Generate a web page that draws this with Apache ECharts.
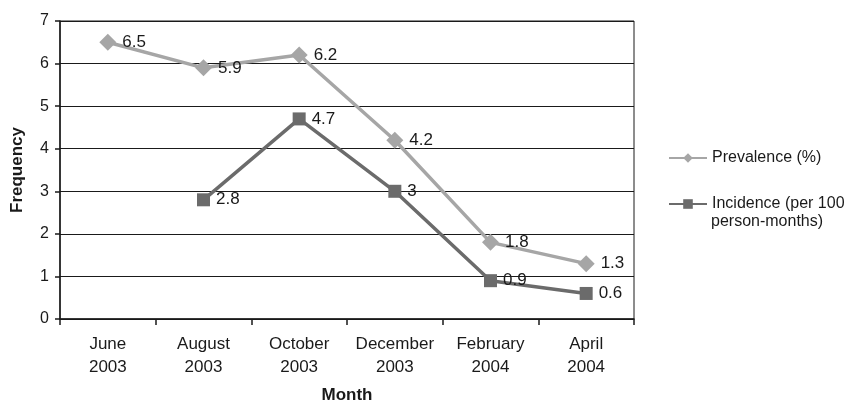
<!DOCTYPE html>
<html>
<head>
<meta charset="utf-8">
<script src="https://cdn.jsdelivr.net/npm/echarts@6/dist/echarts.min.js"></script>
<style>
  html, body { margin: 0; padding: 0; background: #fff; }
  #chart { width: 844px; height: 403px; }
</style>
</head>
<body>
<div id="chart"></div>
<script>
// Survey months (two-line labels)
const months = ['June\n2003', 'August\n2003', 'October\n2003', 'December\n2003', 'February\n2004', 'April\n2004'];
// Prevalence (%)
const prevalence = [6.5, 5.9, 6.2, 4.2, 1.8, 1.3];
// Incidence per 100 person-months (not measured in June)
const incidence = [null, 2.8, 4.7, 3, 0.9, 0.6];
const yTicks = { min: 0, max: 7, interval: 1 };

const font = 'Liberation Sans, Arial, sans-serif';
const ink = '#1a1a1a';
const chart = echarts.init(document.getElementById('chart'));

const labelStyle = {
  show: true,
  position: 'right',
  distance: 6,
  color: ink,
  fontSize: 17,
  fontFamily: font
};

chart.setOption({
  animation: false,
  backgroundColor: '#fff',
  grid: {
    left: 60, right: 210, top: 21, bottom: 84,
    outerBoundsMode: 'none',
    containLabel: false,
    show: true, borderColor: ink, borderWidth: 1
  },
  legend: {
    orient: 'vertical',
    left: 668,
    top: 149,
    padding: 0,
    itemWidth: 38,
    itemHeight: 12,
    itemGap: 28,
    textStyle: { fontFamily: font, fontSize: 16, color: ink, lineHeight: 18 },
    formatter: function (name) {
      return name === 'Incidence' ? 'Incidence (per 100' : 'Prevalence (%)';
    },
    data: ['Prevalence', 'Incidence']
  },
  graphic: [{
    type: 'text',
    left: 711,
    top: 214,
    style: { text: 'person-months)', fontFamily: font, fontSize: 16, fill: ink }
  }],
  xAxis: {
    type: 'category',
    data: months,
    boundaryGap: true,
    name: 'Month',
    nameLocation: 'middle',
    nameGap: 68,
    nameTextStyle: { fontFamily: font, fontSize: 17, fontWeight: 'bold', color: ink },
    axisLine: { lineStyle: { color: ink, width: 1.5 } },
    axisTick: { show: true, length: 6, inside: false, alignWithLabel: false, interval: 0, lineStyle: { color: ink, width: 1.5 } },
    axisLabel: { fontFamily: font, fontSize: 17, color: ink, lineHeight: 23, margin: 14, interval: 0 },
    splitLine: { show: false }
  },
  yAxis: {
    type: 'value',
    min: yTicks.min,
    max: yTicks.max,
    interval: yTicks.interval,
    name: 'Frequency',
    nameLocation: 'middle',
    nameRotate: 90,
    nameGap: 34,
    nameTextStyle: { fontFamily: font, fontSize: 17, fontWeight: 'bold', color: ink },
    axisLine: { show: true, lineStyle: { color: ink, width: 1.5 } },
    axisTick: { show: true, length: 5, lineStyle: { color: ink, width: 1.5 } },
    axisLabel: { fontFamily: font, fontSize: 16, color: ink, margin: 11 },
    splitLine: { show: true, lineStyle: { color: ink, width: 1.2 } }
  },
  series: [
    {
      name: 'Prevalence',
      type: 'line',
      data: prevalence,
      symbol: 'diamond',
      symbolSize: 17,
      color: '#a6a6a6',
      lineStyle: { width: 3.5, color: '#a6a6a6' },
      itemStyle: { color: '#a6a6a6' },
      label: labelStyle,
      z: 3
    },
    {
      name: 'Incidence',
      type: 'line',
      data: incidence,
      symbol: 'rect',
      symbolSize: 13,
      color: '#6b6b6b',
      lineStyle: { width: 3.5, color: '#6b6b6b' },
      itemStyle: { color: '#6b6b6b' },
      label: labelStyle,
      z: 4
    }
  ]
});
</script>
</body>
</html>
